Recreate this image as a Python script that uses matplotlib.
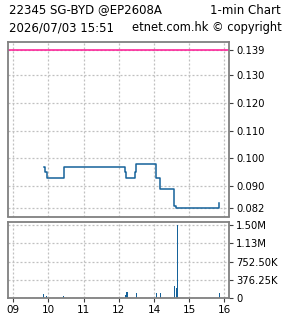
import matplotlib
matplotlib.use("Agg")
import matplotlib.pyplot as plt

# price steps (time, price)
price_times = ["09:52", "09:55", "09:57", "10:27", "13:11", "13:13", "13:28",
               "13:30", "14:03", "14:10", "14:34", "14:38", "15:51"]
prices = [0.097, 0.095, 0.093, 0.097, 0.095, 0.093, 0.095,
          0.098, 0.093, 0.089, 0.083, 0.082, 0.084]
prev_close = 0.139

# volume bars
vol_times = ["09:52", "09:57", "10:26", "13:12", "13:14", "13:30", "14:05",
             "14:11", "14:35", "14:38", "14:40", "15:52"]
volumes = [80000, 35000, 35000, 60000, 120000, 100000, 100000,
           100000, 235000, 200000, 1505000, 97000]

hour_labels = ["09", "10", "11", "12", "14", "15", "16"]
price_ticks = [0.082, 0.090, 0.100, 0.110, 0.120, 0.130, 0.139]
vol_max = 1505000
vol_ticks = [0, vol_max / 4, vol_max / 2, vol_max * 3 / 4, vol_max]
vol_tick_labels = ["0", "376.25K", "752.50K", "1.13M", "1.50M"]


def to_pos(t):
    # lunch break squeezed out: 12:00 and 13:00 share one position
    h, m = t.split(":")
    hours = int(h) + int(m) / 60
    return hours - 9 if hours <= 12 else hours - 10


W, H = 285, 318
fig = plt.figure(figsize=(W / 100, H / 100), dpi=100)
fig.patch.set_facecolor("white")

grid_kw = dict(color="#c0c0c0", linestyle=(0, (1.6, 1.6)), linewidth=0.9)
spine_color = "#808080"
line_color = "#15629a"
font = "DejaVu Sans"

# price panel
ax1 = fig.add_axes([8.3 / W, 1 - 216.5 / H, 221 / W, 174.5 / H])
ax1.step([to_pos(t) for t in price_times], prices, where="post",
         color=line_color, linewidth=1.1)
ax1.axhline(prev_close, color="#ff1493", linewidth=1.1)
ax1.set_xlim(-0.14, 6.14)
ax1.set_ylim(0.0791, 0.1419)
ax1.set_yticks(price_ticks)
ax1.set_yticklabels(["%.3f" % v for v in price_ticks])
ax1.set_xticks(range(len(hour_labels)))
ax1.tick_params(axis="x", length=0, labelbottom=False)

# volume panel
ax2 = fig.add_axes([8.3 / W, 1 - 297.7 / H, 221 / W, 76 / H])
ax2.bar([to_pos(t) for t in vol_times], volumes, width=0.032,
        color=line_color, linewidth=0)
ax2.set_xlim(-0.14, 6.14)
ax2.set_ylim(0, vol_max * 76 / 72.4)
ax2.set_yticks(vol_ticks)
ax2.set_yticklabels(vol_tick_labels)
ax2.set_xticks(range(len(hour_labels)))
ax2.set_xticklabels(hour_labels)
ax2.tick_params(axis="x", length=3, width=0.8, color="#404040", pad=2,
                labelsize=7.5)

for ax in (ax1, ax2):
    ax.yaxis.tick_right()
    ax.tick_params(axis="y", length=3, width=0.8, color="#404040", pad=2,
                   labelsize=7.2)
    ax.grid(True, **grid_kw)
    ax.set_axisbelow(True)
    for s in ax.spines.values():
        s.set_color(spine_color)
        s.set_linewidth(1.3)
    for lab in ax.get_xticklabels() + ax.get_yticklabels():
        lab.set_family(font)

fig.text(9 / W, 1 - 10 / H, "22345 SG-BYD @EP2608A", fontsize=8.5,
         family=font, va="center", ha="left")
fig.text(281 / W, 1 - 10 / H, "1-min Chart", fontsize=8.5,
         family=font, va="center", ha="right")
fig.text(9 / W, 1 - 28 / H, "2026/07/03 15:51", fontsize=8.5,
         family=font, va="center", ha="left")
fig.text(282 / W, 1 - 28 / H, "etnet.com.hk \u00a9 copyright", fontsize=8.3,
         family=font, va="center", ha="right")

fig.savefig("out.png", dpi=100)
